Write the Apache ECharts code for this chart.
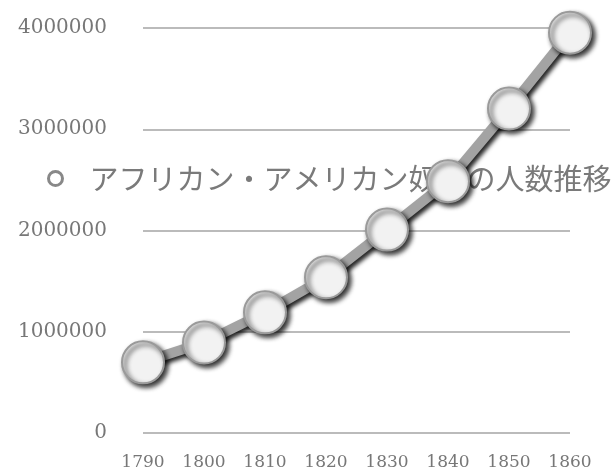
<!DOCTYPE html>
<html>
<head>
<meta charset="utf-8">
<script src="https://cdn.jsdelivr.net/npm/echarts@6/dist/echarts.min.js"></script>
<style>html,body{margin:0;padding:0;background:#fff;}#c{width:612px;height:471px;}</style>
</head>
<body>
<div id="c"></div>
<script>
var categories = ['1790','1800','1810','1820','1830','1840','1850','1860'];
var seriesName = 'アフリカン・アメリカン奴隷の人数推移';
var values = [697681, 893602, 1191362, 1538022, 2009043, 2487355, 3204313, 3953760];
var yTicks = [0, 1000000, 2000000, 3000000, 4000000];

var chart = echarts.init(document.getElementById('c'), null, {renderer: 'canvas'});
chart.setOption({
  animation: false,
  backgroundColor: '#ffffff',
  grid: {left: 143, right: 42, top: 28, bottom: 38, containLabel: false},
  legend: {
    z: 1,
    left: 42,
    top: 159,
    icon: 'circle',
    itemWidth: 14,
    itemHeight: 14,
    itemGap: 10,
    itemStyle: {color: '#ffffff', borderColor: '#888888', borderWidth: 3},
    textStyle: {fontFamily: 'Noto Sans CJK JP', fontSize: 29, color: '#7a7a7a', padding: [0,0,0,22]},
    data: [seriesName]
  },
  xAxis: {
    type: 'category',
    data: categories,
    boundaryGap: false,
    axisLine: {show: false},
    axisTick: {show: false},
    axisLabel: {margin: 21, fontFamily: 'DejaVu Serif', fontSize: 17, color: '#777777'}
  },
  yAxis: {
    type: 'value',
    min: yTicks[0],
    max: yTicks[yTicks.length - 1],
    interval: 1000000,
    axisLine: {show: false},
    axisTick: {show: false},
    axisLabel: {margin: 36, fontFamily: 'DejaVu Serif', fontSize: 20, color: '#777777',
      formatter: function (v) { return String(v); }},
    splitLine: {lineStyle: {color: '#bbbbbb', width: 2}}
  },
  series: [{
    name: seriesName,
    type: 'line',
    z: 3,
    data: values,
    symbol: 'circle',
    symbolSize: 42,
    lineStyle: {color: '#a3a3a3', width: 10, shadowColor: 'rgba(0,0,0,0.85)', shadowBlur: 4, shadowOffsetX: 3, shadowOffsetY: 3},
    itemStyle: {color: '#f2f2f2', borderColor: '#9a9a9a', borderWidth: 2, shadowColor: 'rgba(0,0,0,0.85)', shadowBlur: 5, shadowOffsetX: 3, shadowOffsetY: 3}
  }]
});
</script>
</body>
</html>
